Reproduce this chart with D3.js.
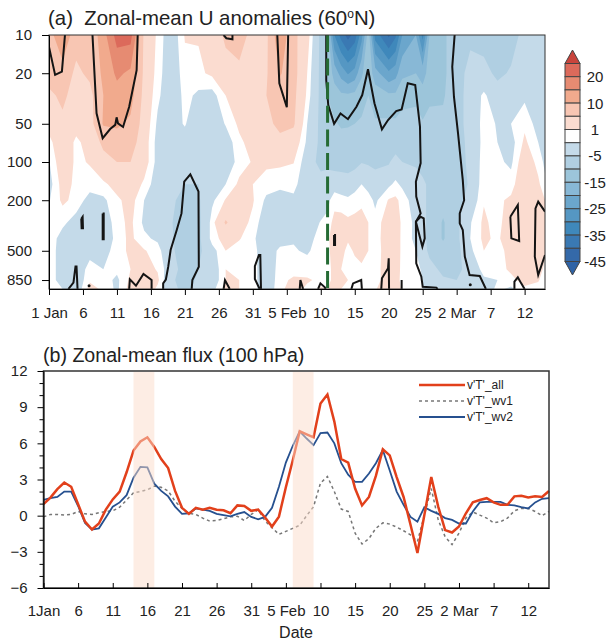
<!DOCTYPE html>
<html>
<head>
<meta charset="utf-8">
<script src="https://cdn.jsdelivr.net/npm/d3@7"></script>
<style>
  html, body { margin: 0; padding: 0; background: #fff; }
  text { font-family: "Liberation Sans", Arial, sans-serif; fill: #222; }
</style>
</head>
<body>
<div id="chart"></div>
<script>
// pressure levels (hPa) of the U field
const levels = [10, 20, 30, 50, 70, 100, 150, 200, 300, 400, 500, 700, 850, 1000];
const levelTicks = [10, 20, 50, 100, 200, 500, 850];

// days since 1 Jan of each column in uByDay
const fieldDays = [0,2,4,6,8,10,12,14,16,18,20,22,24,26,28,30,32,34,36,38,40,41,42,43,44,45,46,47,48,50,51,52,54,55,56,58,60,62,64,66,68,70,72,73];

// zonal-mean U anomalies, one column per day, top to bottom by level
const uByDay = [
  [8,7,4,2,0.3,-1.2,-2,-1.2,0,0.3,0,0,0,0],
  [14,8,6,4,3,3,2,1.5,-0.5,-2,-2,-2,-2,-1],
  [7,4,3,2,0.5,0.5,0.5,0.3,-2,-2.5,-2,-3,-3,-3],
  [6,6,3.5,3,2,1.2,0,-2,-3,-3,-2,0,0.6,2],
  [13,11,10,10.5,6,3.5,0.5,-1.5,-3,-3.5,-2,-1,0,0.5],
  [22,16,13,11,7,5,2,0.5,0.3,0,0,-0.5,-1.5,-1.5],
  [22,14,12,9,7,5,3,2,1.5,1.5,1.5,1,1.5,2],
  [4,4,3.5,3,2.5,2.5,0.5,-1,-1.5,-0.5,1.2,2,3,3],
  [0.5,0,-0.5,-1.5,-2,-2,-2.5,-3,-3,-1.5,0,0.8,1.5,0.5],
  [-3,-3,-3,-2,-2,-3.5,-3.5,-4,-4.5,-4,-4,-3,-4,-4],
  [1.2,0.2,-0.3,-0.8,-2,-3.5,-5,-7,-10,-10,-8,-7,-7.5,-6],
  [1.2,0.5,-1.5,-3,-3.5,-4,-5,-5.5,-6,-6,-6,-5,-4,-4],
  [2,1.5,-2,-3,-3.5,-4,-3,-1.5,0,0,-2,-3,-3,-2],
  [6,3,1,-0.8,-2.5,-3,-1,1.2,5.5,2,1,1,1,2],
  [7,4,3,1.5,0.5,0,1.5,2,2,1.2,0,0.5,1,1],
  [3.5,3,3,2.5,2,1.2,1,1.2,0.5,-0.5,-0.3,0,0,0],
  [4,4.5,5,4,3,1.5,0,-1.5,-3,-3,-2.5,-3,-3,-3],
  [14,10.5,7.5,6,4,1.5,-0.5,-2,-3,-2,-0.5,0,0.2,0.5],
  [6,6.5,6,5.5,3,1.1,-0.3,-1.5,-3,-1.2,-0.8,0,1.5,2],
  [2.5,1,0.5,-1,-1.5,-2.5,-2.8,-3,-3,-2,-1.3,0,1.3,0.5],
  [-6,-6,-6,-6,-6,-6.5,-3,-3,-0.8,0,0,0,0.5,1.2],
  [-12,-11,-10,-8,-8,-6,-3,-1.5,-0.5,0.5,0.5,0.5,0.5,1],
  [-30,-17,-12.5,-9.5,-9,-7,-2,0,2,2.5,2,1.5,1.5,2],
  [-37,-22,-14,-10.5,-8.5,-7,-2.5,-0.2,2,2,1.5,1,1.2,1],
  [-42,-25.5,-14,-10.5,-8,-7,-3,-0.5,1.5,1.2,0.6,0.5,1,0],
  [-38,-23,-13.5,-10,-8,-6.5,-2,0,1.7,1.6,1.2,0.5,0.7,0.2],
  [-27,-16,-11.5,-9.5,-7,-5.2,-1,0.4,2,2,2,0.5,0.3,0.3],
  [-12,-11,-10,-8.5,-7,-5.5,-2,0,1,1,1,0.5,0.3,0.3],
  [-32,-18,-12,-9.5,-9,-6,-3,-1.5,-0.2,0,-0.2,0,0.3,0.8],
  [-41,-24,-14,-9,-9,-5.5,-1.5,1.2,2.5,2.5,2.5,2.5,2,2.5],
  [-36,-22,-14,-9,-8,-3,-0.5,1.5,3,3,3,3,2.5,3],
  [-25,-16,-12,-8,-8,-5,-1.5,0.3,0.3,0.2,0.2,0,0,0.5],
  [-20,-15,-11,-8.5,-7.5,-5.5,-3.5,-2.5,-1.5,-1.5,-1,0,0,0],
  [-32,-17,-13,-9.5,-8,-6,-4.5,-4,-4,-4,-3,-1.5,-1,-1],
  [-15,-13,-11,-8.5,-7,-6,-5.5,-6,-6,-6,-6,-3.5,-3,-3],
  [-11,-11,-10.5,-9,-7,-6.5,-7,-8,-10.5,-10.5,-8,-6,-4.5,-3],
  [-7,-7,-7,-6.5,-6.5,-6,-7,-7,-6,-6,-6.5,-6,-5,-3],
  [-6,-3.5,-3,-3.5,-4,-4.5,-4.5,-3,-1.2,-1,-1.5,-3.5,-3.5,-3],
  [-7,-3.5,-0.5,0,0,0.5,0.8,0.8,1.5,1.5,1,0,-1.5,-2.5],
  [-7.5,-6,-3,-1.2,-1,-0.5,0.3,0.5,0,0.5,-1,0,-1,-0.5],
  [-7,-4.5,-3,-1,-2,-1.5,0,1.5,3,3,3,1.5,0.3,-1.5],
  [-3.5,-3,-1.5,0.5,1.5,3,3.5,4,4,4,4,3.5,2,0.5],
  [-3.5,-3,-2.5,-2,-1,0.2,1.5,2.5,4.8,4,3.5,2,1.2,0.3],
  [-3.5,-3,-3,-2.5,-2,-1.5,-0.5,1,2,1.8,1.5,0.5,0,0]
];

// colour levels, lowest first, and one colour per band (bands.length = thresholds.length + 1)
const thresholds = [-45,-40,-35,-30,-25,-20,-15,-10,-5,-1,1,5,10,15,20,25];
const bandColors = ["#2f63a6","#3469a9","#3a79b3","#3f88bb","#5597c3","#6ba6cc","#88b8d6","#9cc5da","#b0cfe2","#c4dae9","#ffffff","#fbdcd0","#f8c6b3","#f1aa8d","#e68b72","#dc6a5b","#c9443c"];
const colorbarLabels = [[20,1],[10,3],[1,5],[-5,7],[-15,9],[-25,11],[-35,13],[-45,15]];

// significance contours as [day, hPa] vertices
const sigLines = [
  [[0,12.4],[0.9,20.6],[1.9,19.4],[2.35,10]],
  [[6.4,10],[7,41.4],[7.9,65],[9,55],[9.75,51],[9.95,44.5],[10.15,49.6],[10.9,53],[11.8,36.7],[12.9,18.9],[13.05,10]],
  [[25.7,10],[26.1,10.6],[27,10.8],[27,10]],
  [[33.6,10],[33.9,24],[35,37],[35.2,10]],
  [[2.85,1000],[3.6,889],[3.9,666],[4.05,666],[4.2,1000]],
  [[4.75,280],[4.95,270],[5,333],[4.8,333],[4.75,280]],
  [[7.9,254],[8.05,254],[8.05,406],[7.9,406],[7.9,254]],
  [[11.8,1000],[11.9,840],[12.8,942],[13.9,762],[15.1,849],[15.1,1000]],
  [[16.8,1000],[16.8,903],[17.2,842],[17.55,667],[17.9,493],[18.8,343],[19.5,254],[19.9,143],[20.8,125],[22,171],[22.05,667],[21.1,849],[21,1000]],
  [[25.7,1000],[25.9,850],[26.6,1000]],
  [[31,1000],[30.3,835],[30.3,660],[30.9,540],[31.1,540],[31.2,1000]],
  [[36.9,1000],[37,850],[37.4,1000]],
  [[39.6,1000],[39.95,903],[40.6,970],[40.7,1000]],
  [[40.8,10],[40.8,22.6],[41.1,35.6],[41.96,50],[42.9,41.4],[44,46],[45.25,36.7],[46.1,29.7],[46.95,18.6],[47.9,34.5],[49,55.3],[49.9,46.7],[51.1,39.7],[51.9,38.5],[52.8,24],[53.9,24.8],[54.6,52.7],[54.7,102],[54,143],[54.05,187],[54.7,254],[54,295],[54.05,628],[54.8,800],[55,959],[57,975],[57.2,1000]],
  [[54,295],[54.7,270],[55.15,278],[55.3,399],[54.95,464],[54,295]],
  [[59.7,10],[59.35,17.8],[59.6,30.6],[60.2,59.5],[60.9,139],[61.1,200],[60.45,254],[60.45,304],[60.9,343],[61.2,556],[61.9,776],[63.4,790],[64.3,1000]],
  [[44.5,1000],[44.75,903],[45.95,849],[46.05,1000]],
  [[48.9,1000],[49,824],[49.9,687],[50,574],[50.05,1000]],
  [[51.9,849],[51.9,1000]],
  [[41.95,376],[42.1,376],[42.1,451],[41.95,451],[41.95,376]],
  [[67.9,270],[69,218],[69.2,419],[68.05,399],[67.9,270]],
  [[73,246],[72,205],[71.6,232],[71.5,556],[72,776],[73,540]],
  [[68.5,1000],[68.5,875],[69,809],[69.5,903],[70,1000]]
];
const sigDots = [[5.9,942],[62,925]];
const onsetDay = 41;

// date ticks shared by both panels
const dayTicks = d3.range(0, 71, 5);
const dayLabels = ["1 Jan","6","11","16","21","26","31","5 Feb","10","15","20","25","2 Mar","7","12"];
const dayLabelsB = ["1Jan","6","11","16","21","26","31","5 Feb","10","15","20","25","2 Mar","7","12"];

// v'T' at 100 hPa, one value per day from 1 Jan
const fluxAll = [0.95,1.5,2.2,2.75,2.4,0.95,-0.5,-1.15,-0.65,0.5,1.35,2,3.6,5.4,6.15,6.5,5.7,4.7,3.95,2.05,0.65,0.15,0.65,0.5,0.65,0.5,0.45,0.2,0.85,0.8,0.4,0.5,-0.15,-0.9,-0.08,2.35,4.6,7,6.75,6.5,9.3,10.05,7.8,4.7,4.4,2.25,0.85,1.55,3.3,5.5,5,3.2,1.55,-0.75,-3.1,0.05,3.2,0.75,-1.2,-1.4,-0.9,0.2,1.1,1.3,1.45,1.1,0.9,0.9,1.6,1.65,1.5,1.6,1.55,2.05];
const fluxWv1 = [-0.1,0.1,0.1,0.05,0.1,0.35,0.15,0.1,0.25,0.35,0.4,0.7,1.3,1.9,2,2.15,2.45,2.35,2.05,1.2,0.6,0.2,0.1,-0.2,-0.45,-0.4,-0.25,-0.1,-0.05,-0.4,0.1,0.5,-0.45,-1,-1.55,-1.3,-1.05,-0.8,0,0.75,2.7,3.25,2,0.55,0.35,-1.45,-2.35,-1.9,-1.05,-0.6,-0.7,-0.95,-1.25,-1.6,-2.15,0.05,2.25,-0.35,-1.75,-2.4,-1.45,-0.2,0.3,0.05,-0.2,-0.6,-0.5,-0.2,0.4,0.6,0.6,0.35,0,0.35];
const fluxWv2 = [1.3,1.45,1.55,2,2,0.8,-0.6,-1.15,-1.05,-0.15,0.75,1.1,1.7,3.15,4.05,4,2.65,2.05,1.6,0.75,0.15,0.2,0.6,0.5,0.4,0.15,0.05,-0.05,0.15,0.3,-0.1,-0.3,-0.1,0.65,2.4,4.4,5.8,7,6.4,5.85,6.85,6.9,6,4.35,3.4,2.8,2.8,3.5,4.35,5.45,3.75,2,0.9,-0.1,-0.5,0.7,0.4,0.15,-0.2,-0.35,-0.65,-0.65,0.35,1.1,1.15,1.15,1.15,0.9,0.85,0.7,0.6,1.1,1.4,1.45];
const shadedSpans = [[13,16],[36,39]];
const fluxTicks = [12,9,6,3,0,-3,-6];
const legendRows = [
  ["v'T'_all", "#e2401b", 2.5, null],
  ["v'T'_wv1", "#777777", 1.5, "3,3"],
  ["v'T'_wv2", "#26508f", 1.8, null]
];

const svg = d3.select("#chart").append("svg")
  .attr("width", 607)
  .attr("height", 641)
  .style("display", "block");

// ---------- panel (a) ----------
const a = { left: 49, right: 545, top: 35, bottom: 289 };
const xA = d3.scaleLinear().domain([0, 73]).range([a.left, a.right]);
const yA = d3.scaleLog().domain([10, 1000]).range([a.top, a.bottom]);

svg.append("clipPath").attr("id", "clipA").append("rect")
  .attr("x", a.left).attr("y", a.top)
  .attr("width", a.right - a.left).attr("height", a.bottom - a.top);

const gField = svg.append("g").attr("clip-path", "url(#clipA)");

// contour grid index -> day / level, d3.contours puts values at cell centres
const colToDay = d3.scaleLinear().domain(d3.range(fieldDays.length)).range(fieldDays).clamp(true);
const rowToY = d3.scaleLinear().domain(d3.range(levels.length)).range(levels.map(d => yA(d))).clamp(true);
const gridPath = d3.geoPath(d3.geoTransform({
  point(x, y) { this.stream.point(xA(colToDay(x - 0.5)), rowToY(y - 0.5)); }
}));

const flat = [];
levels.forEach((_, j) => fieldDays.forEach((_, i) => flat.push(uByDay[i][j])));
const contours = d3.contours()
  .size([fieldDays.length, levels.length])
  .thresholds(thresholds)(flat);

gField.append("rect")
  .attr("x", a.left).attr("y", a.top)
  .attr("width", a.right - a.left).attr("height", a.bottom - a.top)
  .attr("fill", bandColors[0]);

gField.selectAll("path.band")
  .data(contours)
  .enter()
  .append("path")
  .attr("class", "band")
  .attr("d", gridPath)
  .attr("fill", (d, i) => bandColors[i + 1]);

const sigLine = d3.line().x(d => xA(d[0])).y(d => yA(d[1]));
gField.selectAll("path.sig")
  .data(sigLines)
  .enter()
  .append("path")
  .attr("class", "sig")
  .attr("d", sigLine)
  .attr("fill", "none")
  .attr("stroke", "#141414")
  .attr("stroke-width", 2);
gField.selectAll("circle")
  .data(sigDots)
  .enter()
  .append("circle")
  .attr("cx", d => xA(d[0]))
  .attr("cy", d => yA(d[1]))
  .attr("r", 1.5)
  .attr("fill", "#141414");

gField.append("line")
  .attr("x1", xA(onsetDay)).attr("x2", xA(onsetDay))
  .attr("y1", a.top).attr("y2", a.bottom)
  .attr("stroke", "#256b34")
  .attr("stroke-width", 3)
  .attr("stroke-dasharray", "17,6.6");

svg.append("rect")
  .attr("x", a.left).attr("y", a.top)
  .attr("width", a.right - a.left).attr("height", a.bottom - a.top)
  .attr("fill", "none")
  .attr("stroke", "#333")
  .attr("stroke-width", 1);

const axisA = svg.append("g")
  .attr("transform", `translate(0,${a.bottom})`)
  .call(d3.axisBottom(xA).tickValues(dayTicks).tickFormat((d, i) => dayLabels[i]).tickSize(6).tickSizeOuter(0));
axisA.selectAll("text").attr("y", 29).attr("dy", 0).attr("font-size", 15);
const axisAY = svg.append("g")
  .attr("transform", `translate(${a.left},0)`)
  .call(d3.axisLeft(yA).tickValues(levelTicks).tickFormat(d => d).tickSize(7).tickSizeOuter(0));
axisAY.selectAll("text").attr("x", -17).attr("font-size", 15);

svg.append("text")
  .attr("x", 48)
  .attr("y", 25)
  .attr("font-size", 20.4)
  .style("white-space", "pre")
  .html('(a)  Zonal-mean U anomalies (60<tspan dy="-7" font-size="12">o</tspan><tspan dy="7">N)</tspan>');

// ---------- colour bar ----------
const bar = { left: 565, right: 580, top: 63.5, bottom: 261.5 };
const yBar = d3.scaleLinear().domain([0, 15]).range([bar.top, bar.bottom]);
const barColors = bandColors.slice(1, -1).reverse();
const gBar = svg.append("g");
gBar.selectAll("rect")
  .data(barColors)
  .enter()
  .append("rect")
  .attr("x", bar.left)
  .attr("y", (d, i) => yBar(i))
  .attr("width", bar.right - bar.left)
  .attr("height", yBar(1) - yBar(0))
  .attr("fill", d => d)
  .attr("stroke", "#444")
  .attr("stroke-width", 1);
gBar.append("path")
  .attr("d", `M${bar.left},${bar.top}L${(bar.left + bar.right) / 2},50L${bar.right},${bar.top}Z`)
  .attr("fill", bandColors[16])
  .attr("stroke", "#444");
gBar.append("path")
  .attr("d", `M${bar.left},${bar.bottom}L${(bar.left + bar.right) / 2},275L${bar.right},${bar.bottom}Z`)
  .attr("fill", bandColors[0])
  .attr("stroke", "#444");
gBar.selectAll("text")
  .data(colorbarLabels)
  .enter()
  .append("text")
  .attr("x", 595)
  .attr("y", d => yBar(d[1]))
  .attr("dy", "0.36em")
  .attr("font-size", 15)
  .style("text-anchor", "middle")
  .text(d => d[0]);

// ---------- panel (b) ----------
const b = { left: 43.5, right: 549, top: 371, bottom: 588 };
const xB = d3.scaleLinear().domain([0, 73]).range([b.left, b.right]);
const yB = d3.scaleLinear().domain([-6, 12]).range([b.bottom, b.top]);

const fluxLine = d3.line().x((d, i) => xB(i)).y(d => yB(d));
const fluxSeries = [[fluxWv1, legendRows[1]], [fluxWv2, legendRows[2]], [fluxAll, legendRows[0]]];
svg.selectAll("path.flux")
  .data(fluxSeries)
  .enter()
  .append("path")
  .attr("class", "flux")
  .attr("d", d => fluxLine(d[0]))
  .attr("fill", "none")
  .attr("stroke", d => d[1][1])
  .attr("stroke-width", d => d[1][2])
  .attr("stroke-dasharray", d => d[1][3]);

// shading sits on top of the lines, they show through washed out
svg.selectAll("rect.span")
  .data(shadedSpans)
  .enter()
  .append("rect")
  .attr("class", "span")
  .attr("x", d => xB(d[0]))
  .attr("y", b.top + 1)
  .attr("width", d => xB(d[1]) - xB(d[0]))
  .attr("height", b.bottom - b.top - 1)
  .attr("fill", "#fbdcc9")
  .attr("fill-opacity", 0.5);

svg.append("rect")
  .attr("x", b.left).attr("y", b.top)
  .attr("width", b.right - b.left).attr("height", b.bottom - b.top)
  .attr("fill", "none")
  .attr("stroke", "#333")
  .attr("stroke-width", 1.5);

const axisB = svg.append("g")
  .attr("transform", `translate(0,${b.bottom})`)
  .call(d3.axisBottom(xB).tickValues(dayTicks).tickFormat((d, i) => dayLabelsB[i]).tickSize(-5).tickSizeOuter(0));
axisB.selectAll("text").attr("y", 28).attr("dy", 0).attr("font-size", 15);
const axisBY = svg.append("g")
  .attr("transform", `translate(${b.left},0)`)
  .call(d3.axisLeft(yB).tickValues(fluxTicks).tickSize(6).tickSizeOuter(0));
axisBY.selectAll("text").attr("x", -16).attr("font-size", 15);
svg.append("g")
  .attr("transform", `translate(${b.left},0)`)
  .call(d3.axisLeft(yB).tickValues(d3.range(-6, 13).filter(d => d % 3 !== 0)).tickSize(4).tickFormat("").tickSizeOuter(0))
  .select(".domain").remove();

svg.append("text")
  .attr("x", 43)
  .attr("y", 362)
  .attr("font-size", 19.6)
  .text("(b) Zonal-mean flux (100 hPa)");

svg.append("text")
  .attr("x", 296)
  .attr("y", 638)
  .attr("font-size", 16)
  .style("text-anchor", "middle")
  .text("Date");

// legend
const gLegend = svg.append("g");
legendRows.forEach((row, i) => {
  const ly = 385 + i * 16;
  gLegend.append("line")
    .attr("x1", 419).attr("x2", 465)
    .attr("y1", ly).attr("y2", ly)
    .attr("stroke", row[1])
    .attr("stroke-width", row[2])
    .attr("stroke-dasharray", row[3]);
  gLegend.append("text")
    .attr("x", 467)
    .attr("y", ly + 4)
    .attr("font-size", 12)
    .text(row[0]);
});
</script>
</body>
</html>
